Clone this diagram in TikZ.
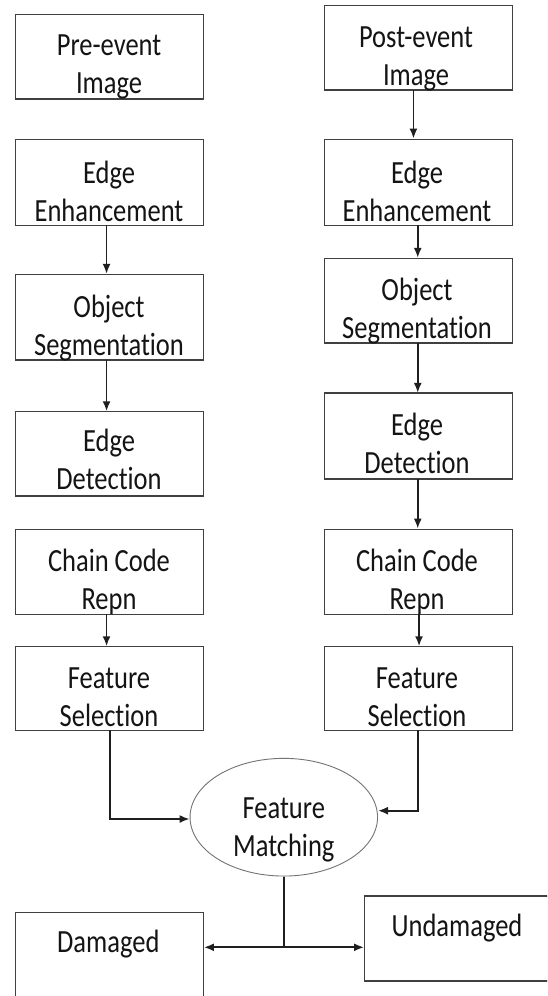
\documentclass[tikz,border=0pt]{standalone}
\usepackage{fontspec}
\setmainfont[Ligatures={NoCommon,NoRare}]{Carlito}
\usepackage{graphicx}
\usetikzlibrary{arrows.meta,shapes.geometric}
\newcommand\lbl[1]{\scalebox{1}[1.22]{\begin{tabular}[b]{@{}c@{}}#1\end{tabular}}}
\begin{document}
\begin{tikzpicture}[x=1pt,y=-1pt,
  box/.style={draw=black!75,line width=0.9pt,rectangle,inner sep=0pt,minimum width=187.7pt},
  oval/.style={draw=black!55,line width=0.9pt,ellipse,inner sep=0pt,minimum width=187.5pt,minimum height=117.7pt},
  txt/.style={inner sep=0pt,anchor=base,text=black!92,font=\fontsize{26.5}{31}\selectfont},
  arr/.style={draw=black!88,line width=1.8pt,-{Latex[length=10pt,width=8pt]}},
  conn/.style={draw=black!88,line width=1.8pt},
  botline/.style={draw=black!75,line width=1.8pt}]
\useasboundingbox (0,0) rectangle (547,996);
\clip (0,0) rectangle (547,996);
\fill[white] (0,0) rectangle (547,996);
% left column boxes
\node[box,minimum height=84.3pt] (pre) at (109.55,56.15) {};
\node[box,minimum height=86pt] (eeL) at (109.55,182) {};
\node[box,minimum height=85pt] (osL) at (109.55,316.8) {};
\node[box,minimum height=84pt] (edL) at (109.55,453.7) {};
\node[box,minimum height=85pt] (ccL) at (109.55,571.5) {};
\node[box,minimum height=83.3pt] (fsL) at (109.55,688.35) {};
% right column boxes
\node[box,minimum height=84.3pt] (post) at (418.35,47.15) {};
\node[box,minimum height=86pt] (eeR) at (418.35,182) {};
\node[box,minimum height=84pt] (osR) at (418.35,300.3) {};
\node[box,minimum height=85pt] (edR) at (418.35,435.8) {};
\node[box,minimum height=85pt] (ccR) at (418.35,571.5) {};
\node[box,minimum height=83.3pt] (fsR) at (418.35,688.35) {};
% matching and outcomes
\node[oval] (fm) at (283.8,817.2) {};
\node[box,minimum height=97.3pt] (dmg) at (109.55,961.35) {};
\node[box,minimum width=195.4pt,minimum height=84pt] (und) at (462.3,938.7) {};
% thicker bottom edges
\foreach \n in {pre,eeL,osL,edL,ccL,fsL,post,eeR,osR,edR,ccR,fsR,und}
  \draw[botline] (\n.south west) -- (\n.south east);
\draw[botline] (edR.north west) -- (edR.north east);
\draw[botline] (und.north west) -- (und.north east);
% texts
\node[txt] (tpre) at (109,93) {\lbl{Pre-event\\Image}};
\node[txt] (tpost) at (416,85.5) {\lbl{Post-event\\Image}};
\node[txt] (teeL) at (109,221.7) {\lbl{Edge\\Enhancement}};
\node[txt] (teeR) at (417,221.7) {\lbl{Edge\\Enhancement}};
\node[txt] (tosL) at (109,355) {\lbl{Object\\Segmentation}};
\node[txt] (tosR) at (417,338.3) {\lbl{Object\\Segmentation}};
\node[txt] (tedL) at (109,489.3) {\lbl{Edge\\Detection}};
\node[txt] (tedR) at (417,473.3) {\lbl{Edge\\Detection}};
\node[txt] (tccL) at (109,609.3) {\lbl{Chain Code\\Repn}};
\node[txt] (tccR) at (417,609.3) {\lbl{Chain Code\\Repn}};
\node[txt] (tfsL) at (109,726.7) {\lbl{Feature\\Selection}};
\node[txt] (tfsR) at (417,726.7) {\lbl{Feature\\Selection}};
\node[txt] (tfm) at (283.8,856) {\lbl{Feature\\Matching}};
\node[txt] (tdmg) at (108.3,952.7) {\lbl{Damaged}};
\node[txt] (tund) at (457,936) {\lbl{Undamaged}};
% left column arrows
\draw[arr] ([xshift=-3pt]eeL.south) -- ([xshift=-3pt]osL.north);
\draw[arr] ([xshift=-3pt]osL.south) -- ([xshift=-3pt]edL.north);
\draw[arr] ([xshift=-3pt]ccL.south) -- ([xshift=-3pt]fsL.north);
% right column arrows
\draw[arr] ([xshift=-4.9pt]post.south) -- ([xshift=-4.9pt]eeR.north);
\draw[arr] ([xshift=-0.6pt]eeR.south) -- ([xshift=-0.6pt]osR.north);
\draw[arr] ([xshift=-0.6pt]osR.south) -- ([xshift=-0.6pt]edR.north);
\draw[arr] ([xshift=-0.6pt]edR.south) -- ([xshift=-0.6pt]ccR.north);
\draw[arr] ([xshift=0.7pt]ccR.south) -- ([xshift=0.7pt]fsR.north);
% into matching
\draw[arr] ([xshift=0.5pt]fsL.south) |- ([yshift=-1.8pt]fm.west);
\draw[arr] ([xshift=-0.6pt]fsR.south) |- ([yshift=6.5pt]fm.east);
% outcomes
\coordinate (sp) at (283.8,947.3);
\draw[conn] (fm.south) -- (sp);
\draw[arr,line width=2.2pt] (sp) -- (sp -| dmg.east);
\draw[arr,line width=2.2pt] (sp) -- (sp -| und.west);
\end{tikzpicture}
\end{document}
